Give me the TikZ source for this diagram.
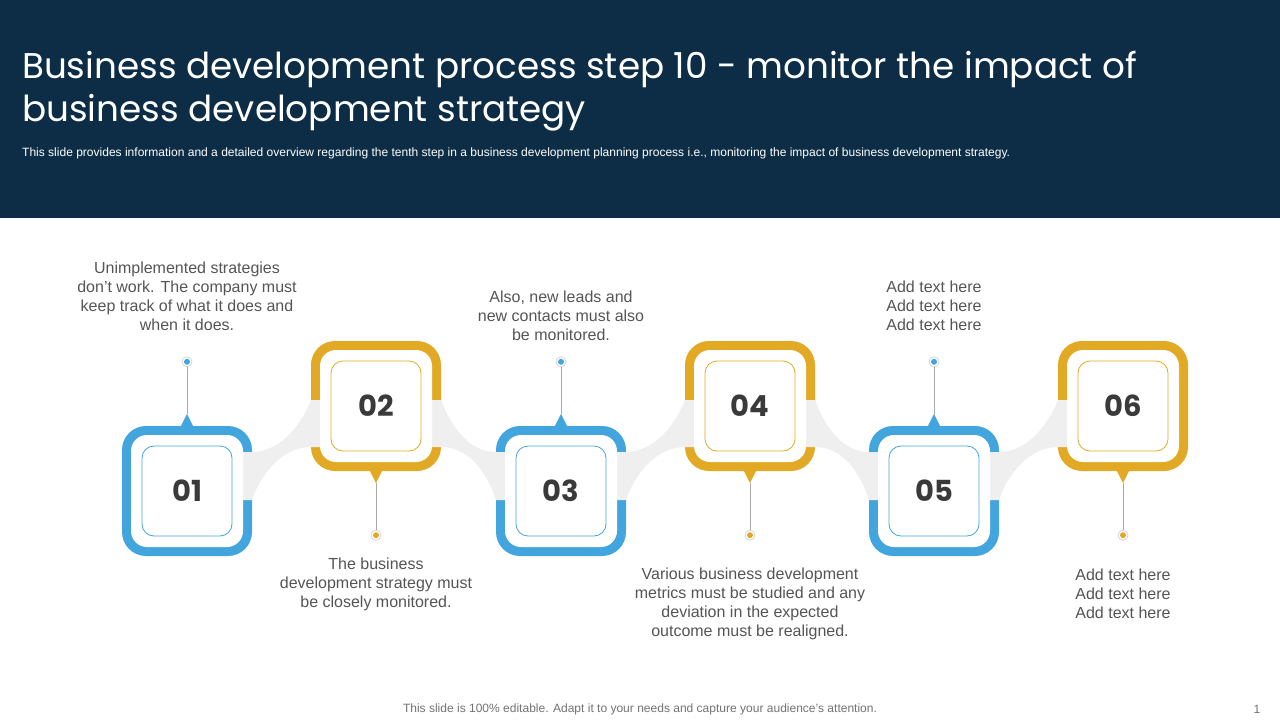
\documentclass[tikz,border=0pt]{standalone}
\usepackage{fontspec}
\setmainfont{Liberation Sans}
\newfontfamily\titlefont{Poppins}
\newfontfamily\numfont{Poppins}
\usetikzlibrary{calc}
\definecolor{navy}{RGB}{12,45,69}
\definecolor{bblue}{RGB}{66,165,221}
\definecolor{byel}{RGB}{226,170,36}
\definecolor{band}{RGB}{239,239,239}
\definecolor{txt}{RGB}{85,85,85}
\definecolor{numc}{RGB}{58,58,58}
\definecolor{pinl}{RGB}{170,170,170}
\newlength\ttlw
\settowidth\ttlw{\titlefont\fontsize{40}{40}\selectfont Business development process step 10 - monitor the impact of}
\pgfmathsetmacro\tsz{1115/\ttlw*40}
\tikzset{
  outerbox/.style={rectangle, rounded corners=24pt, minimum size=130pt, inner sep=0pt, fill=#1},
  whitebox/.style={rectangle, rounded corners=16pt, minimum size=112pt, inner sep=0pt, fill=white},
  innerbox/.style={rectangle, rounded corners=12pt, minimum size=90pt, inner sep=0pt, draw=#1, line width=0.8pt, text=numc, font=\numfont\bfseries\fontsize{29}{29}\selectfont},
  pinring/.style={circle, minimum size=10pt, inner sep=0pt, draw=black!18, line width=0.7pt, fill=white},
  pindot/.style={circle, minimum size=6pt, inner sep=0pt, fill=#1},
  pinline/.style={draw=pinl, line width=0.8pt},
  body/.style={text=txt, align=center, font=\fontsize{16}{19}\selectfont, inner sep=0pt},
  bandfill/.style={fill=band}
}
\begin{document}
\begin{tikzpicture}[x=1pt,y=-1pt]
\useasboundingbox (0,0) rectangle (1280,720);
\fill[white] (0,0) rectangle (1280,720);
% header
\fill[navy] (0,0) rectangle (1280,218);
\node[anchor=base west, inner sep=0pt, text=white, font=\titlefont\fontsize{\tsz}{43}\selectfont] (t1) at (22,78) {Business development process step 10 - monitor the impact of};
\node[anchor=base west, inner sep=0pt, text=white, font=\titlefont\fontsize{\tsz}{43}\selectfont] (t2) at (22,121) {business development strategy};
\node[anchor=base west, inner sep=0pt, text=white] (sub) at (22,156) {\resizebox{988pt}{!}{\fontsize{11}{13}\selectfont This slide provides information and a detailed overview regarding the tenth step in a business development planning process i.e., monitoring the impact of business development strategy.}};
% outer boxes
\node[outerbox=bblue] (b1) at (187,491) {};
\node[outerbox=byel]  (b2) at (376,406) {};
\node[outerbox=bblue] (b3) at (561,491) {};
\node[outerbox=byel]  (b4) at (750,406) {};
\node[outerbox=bblue] (b5) at (934,491) {};
\node[outerbox=byel]  (b6) at (1123,406) {};
% bands (up: lower-left to upper-right)
\foreach \cxl/\cyl/\cxu/\cyu in {187/491/376/406, 561/491/750/406, 934/491/1123/406}{
  \pgfmathsetmacro\xl{\cxl+65}\pgfmathsetmacro\xu{\cxu-65}
  \fill[bandfill] (\xl-12,\cyl-39) -- (\xl,\cyl-39) .. controls (\xl+30,\cyl-39) and (\xu-8,\cyu+15) .. (\xu,\cyu-6) -- (\xu+12,\cyu-6) -- (\xu+12,\cyu+41) -- (\xu,\cyu+41) .. controls (\xu-30,\cyu+41) and (\xl+8,\cyl-15) .. (\xl,\cyl+9) -- (\xl-12,\cyl+9) -- cycle;
}
% bands (down: upper-left to lower-right)
\foreach \cxu/\cyu/\cxl/\cyl in {376/406/561/491, 750/406/934/491}{
  \pgfmathsetmacro\xu{\cxu+65}\pgfmathsetmacro\xl{\cxl-65}
  \fill[bandfill] (\xu-12,\cyu-6) -- (\xu,\cyu-6) .. controls (\xu+8,\cyu+15) and (\xl-30,\cyl-39) .. (\xl,\cyl-39) -- (\xl+12,\cyl-39) -- (\xl+12,\cyl+9) -- (\xl,\cyl+9) .. controls (\xl-8,\cyl-15) and (\xu+30,\cyu+41) .. (\xu,\cyu+41) -- (\xu-12,\cyu+41) -- cycle;
}
% white interiors
\foreach \i in {1,...,6}{ \node[whitebox] at (b\i) {}; }
% inner boxes with numbers
\node[innerbox=bblue] (n1) at (b1) {01};
\node[innerbox=byel]  (n2) at (b2) {02};
\node[innerbox=bblue] (n3) at (b3) {03};
\node[innerbox=byel]  (n4) at (b4) {04};
\node[innerbox=bblue] (n5) at (b5) {05};
\node[innerbox=byel]  (n6) at (b6) {06};
% pointers and pins, blue (top)
\foreach \i in {1,3,5}{
  \coordinate (a\i) at ($(b\i.north)+(0,-12)$);
  \fill[bblue] ($(b\i.north)+(-7,2)$) -- ($(b\i.north)+(7,2)$) -- (a\i) -- cycle;
  \node[pinring] (r\i) at ($(b\i.north)+(0,-64)$) {};
  \draw[pinline] (r\i.south) -- (a\i);
  \node[pindot=bblue] (d\i) at (r\i) {};
}
% pointers and pins, yellow (bottom)
\foreach \i in {2,4,6}{
  \coordinate (a\i) at ($(b\i.south)+(0,12)$);
  \fill[byel] ($(b\i.south)+(-7,-2)$) -- ($(b\i.south)+(7,-2)$) -- (a\i) -- cycle;
  \node[pinring] (r\i) at ($(b\i.south)+(0,64)$) {};
  \draw[pinline] (r\i.north) -- (a\i);
  \node[pindot=byel] (d\i) at (r\i) {};
}
% texts
\node[body] (x1) at (187,296.5) {Unimplemented strategies\\don't work. The company must\\keep track of what it does and\\when it does.};
\node[body] (x2) at (376,584) {The business\\development strategy must\\be closely monitored.};
\node[body] (x3) at (561,316) {Also, new leads and\\new contacts must also\\be monitored.};
\node[body] (x4) at (750,603.5) {Various business development\\metrics must be studied and any\\deviation in the expected\\outcome must be realigned.};
\node[body] (x5) at (934,306) {Add text here\\Add text here\\Add text here};
\node[body] (x6) at (1123,594) {Add text here\\Add text here\\Add text here};
% footer
\node[anchor=base, inner sep=0pt, text=black!55] (ft) at (640,712) {\resizebox{474pt}{!}{\fontsize{11}{13}\selectfont This slide is 100\% editable. Adapt it to your needs and capture your audience's attention.}};
\node[anchor=base, inner sep=0pt, text=black!55, font=\fontsize{12}{14}\selectfont] (pg) at (1257,713) {1};
\end{tikzpicture}
\end{document}
